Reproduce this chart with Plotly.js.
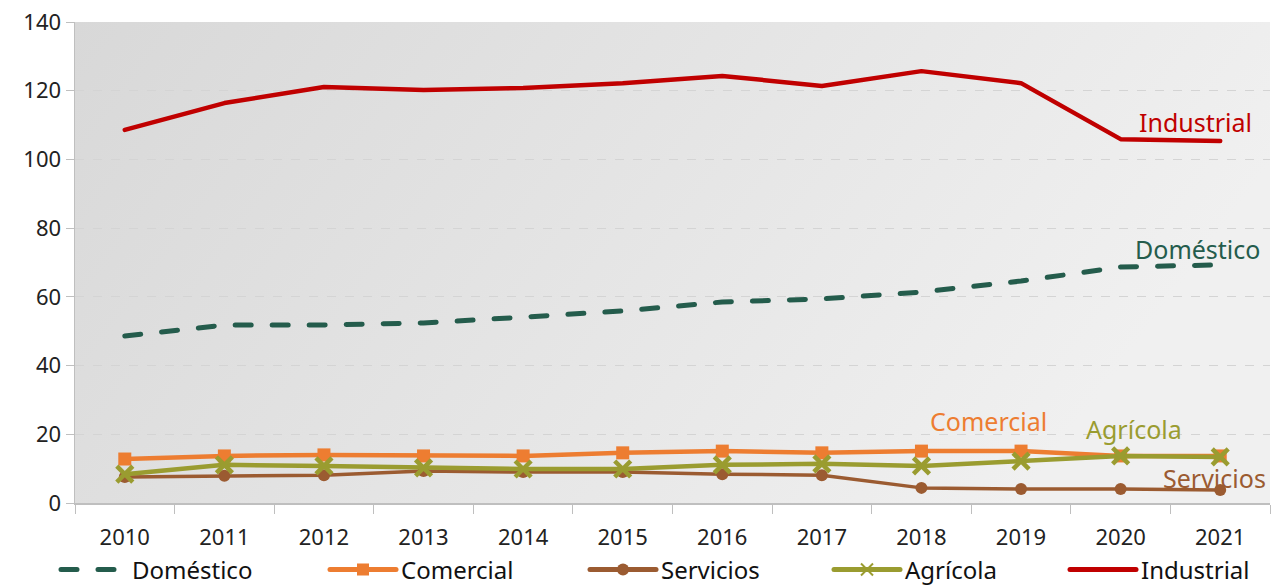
<!DOCTYPE html>
<html><head><meta charset="utf-8">
<script src="https://cdn.plot.ly/plotly-3.0.1.min.js"></script>
<style>html,body{margin:0;padding:0;background:#fff;}#chart{width:1278px;height:587px;}
.scatterlayer path.js-line, .legendlines path{stroke-linecap:round !important; stroke-linejoin:round !important;}
</style>
</head><body><div id="chart"></div>
<script>
const years = ['2010','2011','2012','2013','2014','2015','2016','2017','2018','2019','2020','2021'];
const domestico = [48.6,51.8,51.8,52.4,54.1,55.9,58.5,59.4,61.4,64.6,68.7,69.3];
const comercial = [12.8,13.7,14.0,13.7,13.7,14.6,15.1,14.6,15.1,15.1,13.7,13.7];
const servicios = [7.6,7.9,8.1,9.3,9.0,9.0,8.4,8.1,4.4,4.1,4.1,3.8];
const agricola = [8.4,11.1,10.8,10.2,9.9,9.9,11.1,11.4,10.8,12.2,13.7,13.4];
const industrial = [108.6,116.4,121.1,120.2,120.8,122.2,124.3,121.4,125.7,122.2,105.9,105.4];
const seriesNames = ['Doméstico','Comercial','Servicios','Agrícola','Industrial'];

const FONT = '"Noto Sans", "DejaVu Sans", sans-serif';
const C = {dom:'#245c4c', com:'#ed7d31', ser:'#9b5b31', agr:'#9a9c30', ind:'#c00000'};

const traces = [
  {name:seriesNames[0], legend:'legend', x:years, y:domestico, mode:'lines', line:{color:C.dom, width:5, dash:'16px,21px'}},
  {name:seriesNames[1], legend:'legend2', x:years, y:comercial, mode:'lines+markers', line:{color:C.com, width:4.5}, marker:{symbol:'square', size:13, color:C.com}},
  {name:seriesNames[2], legend:'legend3', x:years, y:servicios, mode:'lines+markers', line:{color:C.ser, width:3.5}, marker:{symbol:'circle', size:12, color:C.ser}},
  {name:seriesNames[3], legend:'legend4', x:years, y:agricola, mode:'lines+markers', line:{color:C.agr, width:4.5}, marker:{symbol:'x-thin', size:16, color:C.agr, line:{color:C.agr, width:4.5}}},
  {name:seriesNames[4], legend:'legend5', x:years, y:industrial, mode:'lines', line:{color:C.ind, width:4.5}}
];

const grad = 'data:image/svg+xml;utf8,' + encodeURIComponent(
 '<svg xmlns="http://www.w3.org/2000/svg" width="100" height="100" preserveAspectRatio="none"><defs><linearGradient id="g" x1="0" y1="0" x2="1" y2="0.3"><stop offset="0" stop-color="#d8d8d8"/><stop offset="1" stop-color="#f0f0f0"/></linearGradient></defs><rect width="100" height="100" fill="url(#g)"/></svg>');

function ann(text, xi, y, color){
  return {x:xi, y:y, xref:'x', yref:'y', text:text, showarrow:false, font:{family:FONT, size:25, color:color}};
}
function leg(xpx){
  return {orientation:'h', x:xpx/1278, xanchor:'left', xref:'container', y:0.029, yref:'container', yanchor:'middle',
          itemwidth:66, font:{family:FONT, size:24, color:'#111'}, itemsizing:'constant', bgcolor:'rgba(0,0,0,0)'};
}

const layout = {
  width:1278, height:587,
  margin:{l:75, r:8, t:22, b:84},
  paper_bgcolor:'#ffffff',
  plot_bgcolor:'rgba(0,0,0,0)',
  font:{family:FONT, size:20, color:'#222'},
  showlegend:true,
  legend:leg(56), legend2:leg(325), legend3:leg(585), legend4:leg(829), legend5:leg(1065),
  xaxis:{type:'category', range:[-0.5,11.5], showgrid:false, showline:true, linecolor:'#bfbfbf', linewidth:1.5,
         ticks:'outside', ticklen:9, tickcolor:'#bfbfbf', tickson:'boundaries', tickangle:0, automargin:false,
         ticklabelstandoff:14, tickfont:{size:22, color:'#222'}, fixedrange:true},
  yaxis:{range:[0,140], dtick:20, showgrid:true, gridcolor:'#d4d4d4', griddash:'dash', gridwidth:1, showline:true, linecolor:'#bfbfbf', linewidth:1.5,
         ticks:'outside', ticklen:8, tickcolor:'#bfbfbf', zeroline:false, automargin:false, tickfont:{size:22, color:'#222'}, fixedrange:true},
  images:[{source:grad, xref:'paper', yref:'paper', x:0, y:1, sizex:1, sizey:1, sizing:'stretch', layer:'below', xanchor:'left', yanchor:'top'}],
  annotations:[
    ann('Industrial', 10.75, 110.9, C.ind),
    ann('Doméstico', 10.77, 73.9, C.dom),
    ann('Comercial', 8.67, 23.9, C.com),
    ann('Agrícola', 10.13, 21.5, C.agr),
    ann('Servicios', 10.94, 7.3, C.ser)
  ]
};

Plotly.newPlot('chart', traces, layout, {displayModeBar:false, staticPlot:true});
</script></body></html>
